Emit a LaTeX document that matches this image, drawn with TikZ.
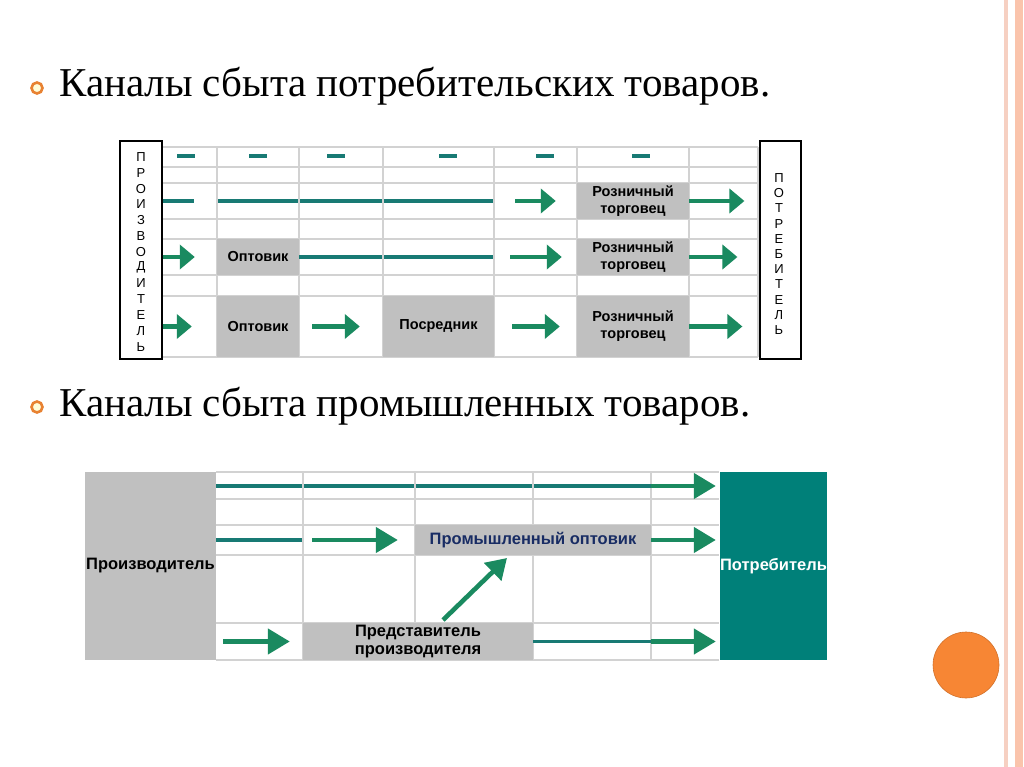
\documentclass[tikz,border=0pt]{standalone}
\usepackage{fontspec}
\setmainfont{Liberation Serif}
\setsansfont{Liberation Sans}
\usetikzlibrary{arrows.meta}

\definecolor{linkteal}{RGB}{24,122,116}
\definecolor{flowgreen}{RGB}{26,138,96}
\definecolor{boxgray}{RGB}{192,192,192}
\definecolor{buyerteal}{RGB}{0,128,121}
\definecolor{navytext}{RGB}{24,44,100}
\definecolor{bulletorange}{RGB}{232,130,50}
\definecolor{stripepale}{RGB}{246,208,194}
\definecolor{stripepeach}{RGB}{250,196,172}
\definecolor{dotorange}{RGB}{247,134,52}

\begin{document}
\begin{tikzpicture}[
        x=1pt, y=-1pt,
        grid/.style={draw=gray!35, line width=1.6pt},
        link/.style={draw=linkteal, line width=3.4pt},
        flow/.style={draw=flowgreen, line width=4.2pt, -{Triangle[length=15pt, width=24pt]}},
        bigflow/.style={draw=flowgreen, line width=4.6pt, -{Triangle[length=22pt, width=25pt]}},
        cellbox/.style={fill=boxgray, inner sep=0pt, align=center, font=\sffamily\bfseries\fontsize{14.5}{17}\selectfont},
        endbox/.style={fill=boxgray, inner sep=0pt, align=center, font=\sffamily\bfseries\fontsize{16.5}{17.5}\selectfont},
        namebox/.style={draw=black, line width=1.2pt, fill=white, inner sep=0pt},
        letter/.style={font=\sffamily\fontsize{13}{13}\selectfont, inner sep=0pt},
        heading/.style={anchor=base west, inner sep=0pt, font=\fontsize{41}{46}\selectfont},
        bullet/.style={circle, draw=bulletorange, line width=2.6pt, fill=yellow!15, minimum size=11pt, inner sep=0pt}
    ]
        \fill[white] (0,0) rectangle (1024,767);
        \useasboundingbox (0,0) rectangle (1024,767);

        % slide frame
        \draw[stripepale, line width=4pt] (1005.5,0) -- (1005.5,767);
        \draw[stripepeach, line width=8pt] (1019,0) -- (1019,767);
        \fill[dotorange, draw=dotorange!85!black, line width=0.6pt] (966,665) circle (33pt);

        % headings
        \node[bullet] (b1) at (37,88) {};
        \node[heading] (t1) at (59,97) {Каналы сбыта потребительских товаров.};
        \node[bullet] (b2) at (37,407) {};
        \node[heading] (t2) at (59,416) {Каналы сбыта промышленных товаров.};

        % consumer goods: grid
        \foreach \y in {147,167,183,219,239,275,296,357}
            \draw[grid] (162,\y) -- (758,\y);
        \foreach \x in {217,299,383,494,577,689,758}
            \draw[grid] (\x,147) -- (\x,357);

        % producer and consumer
        \node[namebox, minimum width=42pt, minimum height=218pt] (maker) at (141,250) {};
        \node[namebox, minimum width=41pt, minimum height=218pt] (buyer) at (780.5,250) {};
        \foreach \ch [count=\i from 0] in {П,Р,О,И,З,В,О,Д,И,Т,Е,Л,Ь}
            \node[letter] (ml\i) at (141,{157+15.8*\i}) {\ch};
        \foreach \ch [count=\i from 0] in {П,О,Т,Р,Е,Б,И,Т,Е,Л,Ь}
            \node[letter] (bl\i) at (779,{178+15.2*\i}) {\ch};

        % middlemen
        \node[cellbox, minimum width=82pt, minimum height=36pt] (whs1) at (258,257) {Оптовик};
        \node[cellbox, minimum width=82pt, minimum height=61pt] (whs2) at (258,326.5) {Оптовик};
        \node[cellbox, minimum width=111pt, minimum height=61pt] (agent) at (438.5,326.5) {Посредник};
        \node[cellbox, minimum width=112pt, minimum height=36pt] (ret1) at (633,201) {Розничный\\торговец};
        \node[cellbox, minimum width=112pt, minimum height=36pt] (ret2) at (633,257) {Розничный\\торговец};
        \node[cellbox, minimum width=112pt, minimum height=61pt] (ret3) at (633,326.5) {Розничный\\торговец};

        % direct channel
        \foreach \x in {186,258,336,448,545,641}
            \draw[link] ({\x-9},156) -- ({\x+9},156);

        % one level
        \draw[link] (maker.east |- ret1) -- (194,201);
        \foreach \a/\b in {218/298,300/382,384/493}
            \draw[link] (\a,201) -- (\b,201);
        \coordinate (c1) at (494,201);
        \draw[flow, shorten <=21pt, shorten >=21pt] (c1) -- (ret1.west);
        \draw[flow, shorten >=15pt] (ret1.east) -- (ret1.east -| buyer.west);

        % two levels
        \draw[flow, shorten >=22pt] (maker.east |- whs1) -- (whs1.west);
        \draw[link] (whs1.east) -- (382,257);
        \draw[link] (384,257) -- (493,257);
        \coordinate (c2) at (494,257);
        \draw[flow, shorten <=16pt, shorten >=15pt] (c2) -- (ret2.west);
        \draw[flow, shorten >=22pt] (ret2.east) -- (ret2.east -| buyer.west);

        % three levels
        \draw[flow, shorten >=25pt] (maker.east |- whs2) -- (whs2.west);
        \draw[flow, shorten <=13pt, shorten >=23pt] (whs2.east) -- (agent.west);
        \draw[flow, shorten <=18pt, shorten >=17pt] (agent.east) -- (ret3.west);
        \draw[flow, shorten >=17pt] (ret3.east) -- (ret3.east -| buyer.west);

        % industrial goods: grid
        \foreach \y in {472,499,525,555,623,660}
            \draw[grid] (216,\y) -- (719,\y);
        \foreach \x in {303,415,533,651}
            \draw[grid] (\x,472) -- (\x,660);

        \node[endbox, minimum width=131pt, minimum height=188pt] (maker2) at (150.5,566) {Производитель};
        \node[endbox, fill=buyerteal, text=white, minimum width=107pt, minimum height=188pt] (buyer2) at (773.5,566) {Потребитель};
        \node[endbox, text=navytext, minimum width=236pt, minimum height=30pt] (whs3) at (533,540) {Промышленный оптовик};
        \node[endbox, minimum width=230pt, minimum height=37pt] (rep) at (418,641.5) {Представитель\\производителя};

        % direct
        \draw[link] (maker2.east |- 0,486) -- (302,486);
        \foreach \a/\b in {304/414,416/532,534/651}
            \draw[link] (\a,486) -- (\b,486);
        \coordinate (r1) at (651,486);
        \draw[bigflow, shorten >=4pt] (r1) -- (r1 -| buyer2.west);

        % via wholesaler
        \draw[link] (maker2.east |- whs3) -- (302,540);
        \coordinate (r3) at (303,540);
        \draw[bigflow, shorten <=9pt, shorten >=17pt] (r3) -- (whs3.west);
        \draw[bigflow, shorten >=4pt] (whs3.east) -- (whs3.east -| buyer2.west);

        % via agent
        \draw[bigflow, shorten <=7pt, shorten >=13pt] (maker2.east |- rep) -- (rep.west);
        \coordinate (r5) at (651,641.5);
        \draw[link] (rep.east) -- (r5);
        \draw[bigflow, shorten >=4pt] (r5) -- (r5 -| buyer2.west);
        \draw[bigflow, -{Triangle[length=20pt, width=24pt]}] (443,620) -- (507,558);
    \end{tikzpicture}
\end{document}
